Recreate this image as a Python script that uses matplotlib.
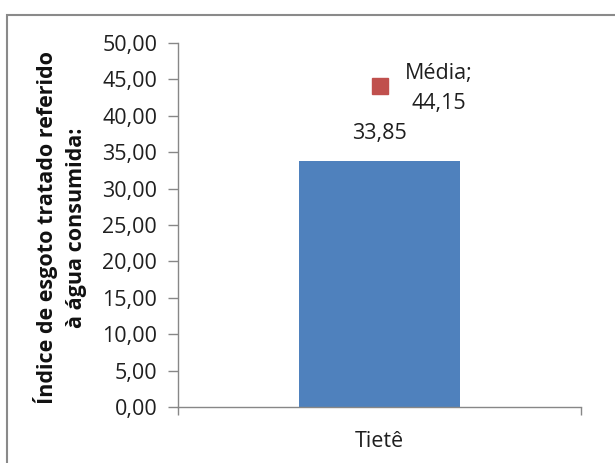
import matplotlib
matplotlib.use("Agg")
import matplotlib.pyplot as plt
from matplotlib.patches import Rectangle
from matplotlib.ticker import FixedLocator, FuncFormatter

# Data
categories = ["Tietê"]
indice = [33.85]
media_label = "Média"
media = [44.15]
y_ticks = [0, 5, 10, 15, 20, 25, 30, 35, 40, 45, 50]

plt.rcParams["font.family"] = ["Open Sans", "DejaVu Sans"]

W, H = 615, 463
fig = plt.figure(figsize=(W / 100, H / 100), dpi=100)
ax = fig.add_axes([178 / W, 1 - 407 / H, (581 - 178) / W, (407 - 43) / H])

def br(v, nd=2):
    return f"{v:.{nd}f}".replace(".", ",")

FS = 15.5
TXT = "#1f1f1f"

x = list(range(len(categories)))
ax.bar(x, indice, width=0.4, color="#4F81BD", zorder=2)
ax.plot(x, media, linestyle="none", marker="s", markersize=11.5,
        color="#C0504D", zorder=3)

for xi, v in zip(x, indice):
    ax.annotate(br(v), (xi, v), xytext=(0, 19.5), textcoords="offset points",
                ha="center", va="center", fontsize=FS, color=TXT)
for xi, v in zip(x, media):
    ax.annotate(f"{media_label};\n{br(v)}", (xi, v), xytext=(43, -2),
                textcoords="offset points", ha="center", va="center",
                fontsize=FS, color=TXT, linespacing=1.55)

ax.set_xlim(-0.5, len(categories) - 0.5)
ax.set_ylim(y_ticks[0], y_ticks[-1])
ax.yaxis.set_major_locator(FixedLocator(y_ticks))
ax.yaxis.set_major_formatter(FuncFormatter(lambda v, p: br(v)))

# category boundaries as major ticks, names as minor ticks
ax.xaxis.set_major_locator(FixedLocator([i - 0.5 for i in range(len(categories) + 1)]))
ax.xaxis.set_major_formatter(FuncFormatter(lambda v, p: ""))
ax.xaxis.set_minor_locator(FixedLocator(x))
ax.set_xticklabels(categories, minor=True)

spine_c = "#878787"
for s in ("top", "right"):
    ax.spines[s].set_visible(False)
for s in ("left", "bottom"):
    ax.spines[s].set_color(spine_c)
    ax.spines[s].set_linewidth(1.0)

ax.tick_params(axis="y", which="major", direction="out", length=7, width=1.0,
               color=spine_c, labelsize=FS, labelcolor=TXT, pad=8)
ax.tick_params(axis="x", which="major", direction="out", length=6, width=1.0,
               color=spine_c)
ax.tick_params(axis="x", which="minor", length=0, labelsize=FS,
               labelcolor=TXT, pad=17)

fig.text(60 / W, 1 - 228 / H,
         "Índice de esgoto tratado referido\nà água consumida:",
         rotation=90, ha="center", va="center", fontsize=15.5,
         fontweight="bold", color="#111111", linespacing=1.45)

# chart area frame
fig.patches.append(Rectangle((7 / W, -0.1), 1.2, 1 - 15 / H + 0.1,
                             transform=fig.transFigure, fill=False,
                             edgecolor="#8a8a8a", linewidth=1.5))

fig.savefig("out.png", dpi=100)
